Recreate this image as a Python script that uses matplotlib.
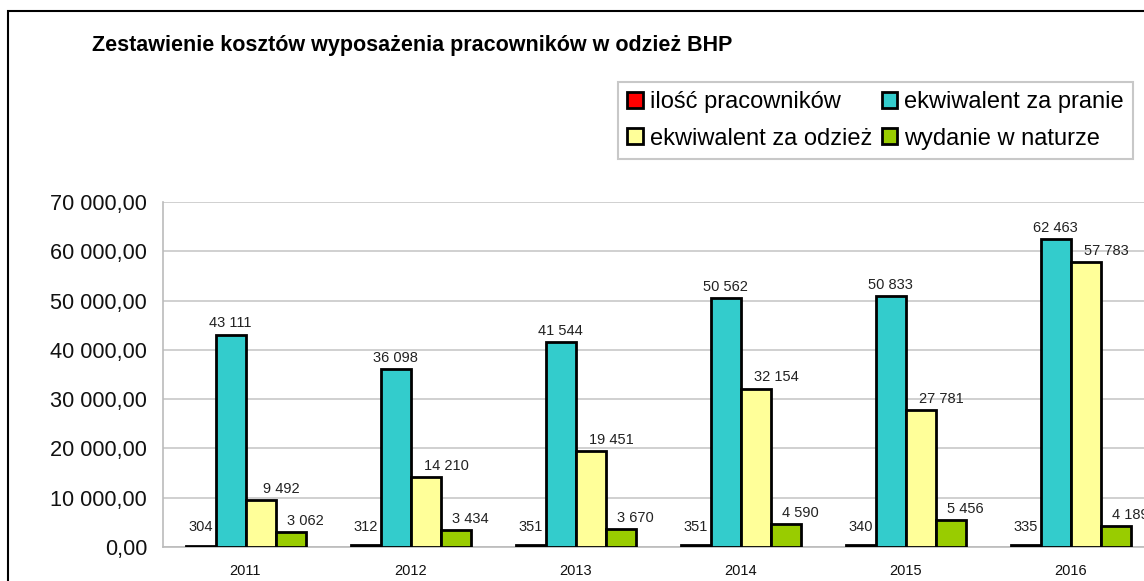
import numpy as np
from matplotlib import pyplot as plt
from matplotlib.patches import Rectangle
from matplotlib.ticker import FuncFormatter

plt.rcParams['font.family'] = ['Liberation Sans', 'DejaVu Sans']

lata = ["2011", "2012", "2013", "2014", "2015", "2016"]
serie = ["ilość pracowników", "ekwiwalent za pranie", "ekwiwalent za odzież", "wydanie w naturze"]
ilosc = [304, 312, 351, 351, 340, 335]
pranie = [43111, 36098, 41544, 50562, 50833, 62463]
odziez = [9492, 14210, 19451, 32154, 27781, 57783]
natura = [3062, 3434, 3670, 4590, 5456, 4189]
kolory = ["#FF0000", "#33CCCC", "#FFFF99", "#99CC00"]


def fmt_pl(v, dec=0):
    s = f"{v:,.{dec}f}".replace(",", " ").replace(".", ",")
    return s


def main():
    W, H = 1144, 581
    fig = plt.figure(figsize=(W / 100, H / 100), dpi=100)

    # ramka wykresu (ucięta z prawej i z dołu)
    fig.patches.append(Rectangle((8 / W, -0.05), 1.2, 1 - 11 / H + 0.05, transform=fig.transFigure,
                                 fill=False, edgecolor="black", linewidth=1.5))

    ax = fig.add_axes([163 / W, 1 - 547 / H, 990 / W, (547 - 202) / H])
    x = np.arange(len(lata))
    w = 30 / 165
    dane = [ilosc, pranie, odziez, natura]
    przes_x = [0, 0, 15, 11]     # przesunięcie etykiet w punktach
    przes_y = [13, 8, 8, 8]
    uchwyty = []
    for k, (vals, kol) in enumerate(zip(dane, kolory)):
        pos = x + (k - 1.5) * w
        b = ax.bar(pos, vals, width=w, color=kol, edgecolor="black", linewidth=2.0,
                   label=serie[k], zorder=3)
        uchwyty.append(b)
        for px, v in zip(pos, vals):
            ax.annotate(fmt_pl(v), (px, v), xytext=(przes_x[k], przes_y[k]), textcoords="offset points",
                        ha="center", va="center", fontsize=10.5, color="#222222", zorder=4)

    ax.set_xlim(-0.5, len(lata) - 0.5)
    ax.set_ylim(0, 70000)
    ax.set_yticks(np.arange(0, 70001, 10000))
    ax.yaxis.set_major_formatter(FuncFormatter(lambda v, p: fmt_pl(v, 2)))
    ax.set_xticks(x)
    ax.set_xticklabels(lata)
    ax.tick_params(axis="y", length=0, pad=11.5, labelsize=15.7, labelcolor="#111111")
    ax.tick_params(axis="x", length=0, pad=12, labelsize=10.5, labelcolor="#111111")
    ax.grid(axis="y", color="#C8C8C8", linewidth=1.2, zorder=0)
    for s in ["top", "right"]:
        ax.spines[s].set_visible(False)
    for s in ["left", "bottom"]:
        ax.spines[s].set_color("#BBBBBB")
        ax.spines[s].set_linewidth(1.2)

    fig.text(92 / W, 1 - 46 / H, "Zestawienie kosztów wyposażenia pracowników w odzież BHP",
             fontsize=15.5, fontweight="bold", va="center", ha="left", fontstretch="condensed")

    kolejnosc = [uchwyty[0], uchwyty[2], uchwyty[1], uchwyty[3]]
    etykiety = [serie[0], serie[2], serie[1], serie[3]]
    leg = fig.legend(kolejnosc, etykiety, loc="upper left", bbox_to_anchor=(618 / W, 1 - 82 / H),
                     ncol=2, fontsize=17, frameon=True, fancybox=False, handlelength=0.65,
                     handleheight=0.65, handletextpad=0.3, columnspacing=0.4, labelspacing=0.6,
                     borderpad=0.4, borderaxespad=0)
    leg.get_frame().set_edgecolor("#BBBBBB")
    leg.get_frame().set_linewidth(1.5)

    plt.savefig("out.png", dpi=100)


if __name__ == "__main__":
    main()
